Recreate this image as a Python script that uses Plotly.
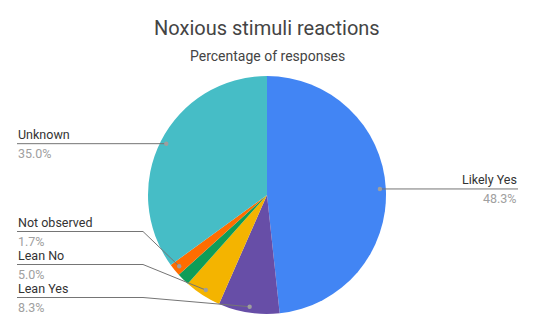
import math
import plotly.graph_objects as go

# ---- data ----
categories = ["Likely Yes", "Lean Yes", "Lean No", "Other", "Not observed", "Unknown"]
values = [48.3, 8.3, 5.0, 1.7, 1.7, 35.0]
colors = ["#4285F4", "#674EA7", "#F4B400", "#0F9D58", "#FF6D00", "#46BDC6"]
show_label = [True, True, True, False, True, True]

W, H = 534, 330
CX, CY, R = 267.0, 195.0, 119.0  # pie geometry in pixels

fig = go.Figure(go.Pie(
    labels=categories, values=values, sort=False, direction="clockwise",
    rotation=0, marker=dict(colors=colors, line=dict(width=0)),
    textinfo="none", hoverinfo="label+percent", showlegend=False,
    domain=dict(x=[(CX - R) / W, (CX + R) / W], y=[1 - (CY + R) / H, 1 - (CY - R) / H]),
))

def px(x):
    return x / W

def py(y):
    return 1 - y / H

# label layout (pixel y of the label line) for the left-hand labels
left_line_y = {"Unknown": None, "Not observed": 231.5, "Lean No": 264.5, "Lean Yes": 297.5}
LEFT_X, BEND_X, RIGHT_X = 17, 143, 518

shapes, annotations = [], []
total = sum(values)
cum = 0.0
for cat, v, show in zip(categories, values, show_label):
    mid = (cum + v / 2) / total
    cum += v
    if not show:
        continue
    ang = 2 * math.pi * mid
    r = 0.95 * R
    dx, dy = CX + r * math.sin(ang), CY - r * math.cos(ang)
    pct = f"{v / total * 100:.1f}%"
    if math.sin(ang) > 0:
        ly = dy
        shapes.append(dict(type="line", xref="paper", yref="paper", x0=px(dx), y0=py(dy),
                           x1=px(RIGHT_X), y1=py(ly), line=dict(color="#757575", width=1)))
        tx, anchor = RIGHT_X, "right"
    else:
        ly = left_line_y.get(cat) or dy
        if abs(ly - dy) < 0.5:
            shapes.append(dict(type="line", xref="paper", yref="paper", x0=px(dx), y0=py(dy),
                               x1=px(LEFT_X), y1=py(ly), line=dict(color="#757575", width=1)))
        else:
            shapes.append(dict(type="path", xref="paper", yref="paper",
                               path=f"M {px(dx)} {py(dy)} L {px(BEND_X)} {py(ly)} L {px(LEFT_X)} {py(ly)}",
                               line=dict(color="#757575", width=1)))
        tx, anchor = LEFT_X, "left"
    shapes.append(dict(type="circle", xref="paper", yref="paper",
                       x0=px(dx - 2.2), x1=px(dx + 2.2), y0=py(dy + 2.2), y1=py(dy - 2.2),
                       fillcolor="#9e9e9e", line=dict(width=0)))
    annotations.append(dict(x=px(tx), y=py(ly - 9), xref="paper", yref="paper", text=cat,
                            showarrow=False, xanchor=anchor, yanchor="middle", borderpad=0,
                            font=dict(family="Roboto", size=12.5, color="#333333")))
    annotations.append(dict(x=px(tx), y=py(ly + 9.5), xref="paper", yref="paper", text=pct,
                            showarrow=False, xanchor=anchor, yanchor="middle", borderpad=0,
                            font=dict(family="Roboto", size=12.5, color="#a0a0a0")))

annotations.append(dict(x=px(267), y=py(28), xref="paper", yref="paper",
                        text="Noxious stimuli reactions", showarrow=False,
                        xanchor="center", yanchor="middle",
                        font=dict(family="Roboto", size=20, color="#444444")))
annotations.append(dict(x=px(267), y=py(56), xref="paper", yref="paper",
                        text="Percentage of responses", showarrow=False,
                        xanchor="center", yanchor="middle",
                        font=dict(family="Roboto", size=14, color="#444444")))

fig.update_layout(width=W, height=H, margin=dict(l=0, r=0, t=0, b=0),
                  paper_bgcolor="white", plot_bgcolor="white",
                  shapes=shapes, annotations=annotations)

fig.write_html("out.html")
